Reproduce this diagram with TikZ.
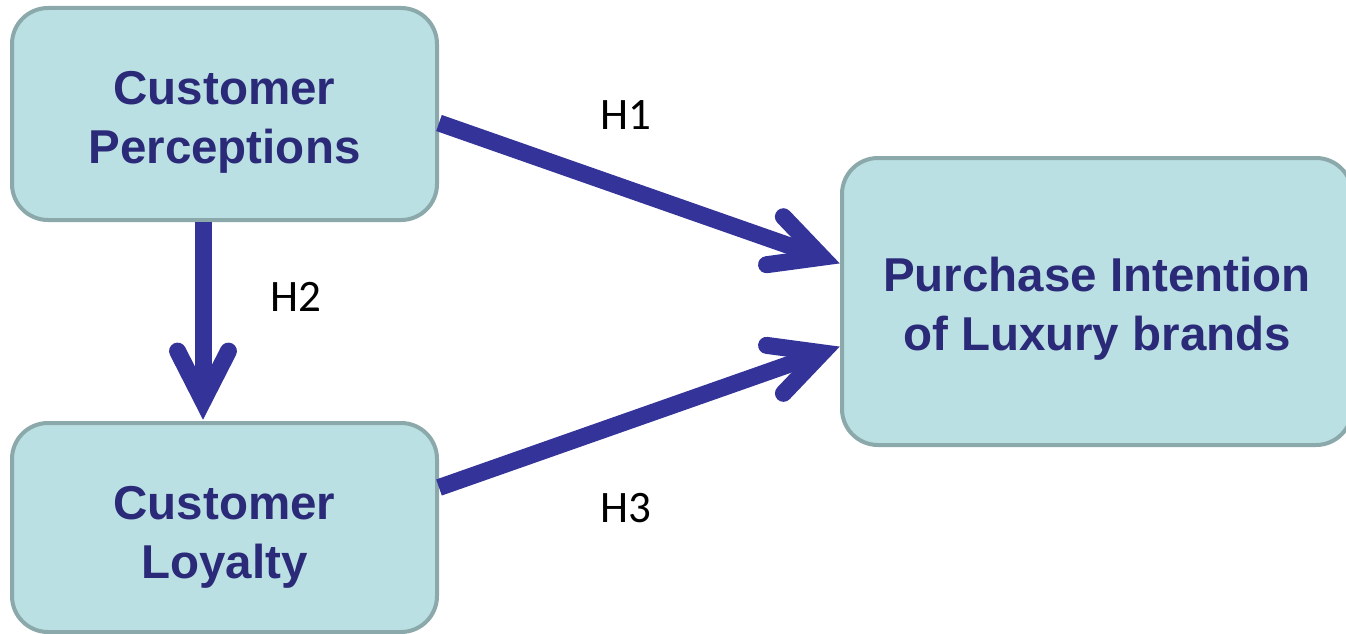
\documentclass[tikz,border=0pt]{standalone}
\usepackage{fontspec}
\setmainfont{Liberation Sans}
\newfontfamily\hfont{Carlito}
\usetikzlibrary{calc}
\definecolor{boxfill}{HTML}{BAE0E3}
\definecolor{boxline}{HTML}{8BA8AA}
\definecolor{boxtext}{HTML}{2A2A78}
\definecolor{arrowblue}{HTML}{333399}
\tikzset{
  box/.style={draw=boxline, fill=boxfill, line width=4pt, rounded corners=36pt,
    inner sep=0pt, align=center, text=boxtext,
    font=\bfseries\fontsize{47.5}{59}\selectfont},
  hlabel/.style={inner sep=0pt, font=\hfont\fontsize{45}{54}\selectfont, text=black},
  shaft/.style={draw=arrowblue, line width=17pt, line cap=butt},
  barb/.style={draw=arrowblue, line width=17pt, line cap=round, line join=miter, miter limit=10}
}
\newcommand{\hyparr}[3]{%
  \coordinate (#3c) at ($(#2)!19pt!(#1)$);
  \draw[shaft] (#1) -- (#3c);
  \draw[barb] ($(#3c)!56pt!27:(#1)$) -- (#3c) -- ($(#3c)!56pt!-27:(#1)$);
}
\begin{document}
\begin{tikzpicture}[x=1pt,y=-1pt]
\useasboundingbox (0,0) rectangle (1346,634);
\node[box, minimum width=425pt, minimum height=212pt] (cp) at (224.5,114) {\rule{0pt}{50pt}Customer\\Perceptions};
\node[box, minimum width=425pt, minimum height=209pt] (cl) at (224.5,527.5) {\rule{0pt}{52pt}Customer\\Loyalty};
\node[box, minimum width=510pt, minimum height=287pt] (pi) at (1097,301.5) {\rule{0pt}{48pt}Purchase Intention\\of Luxury brands};
\coordinate (s1) at ($(cp.east)+(0,9)$);
\coordinate (t1) at ($(pi.west)+(0,-38)$);
\coordinate (s2) at ($(cp.south)+(-21.5,0)$);
\coordinate (t2) at ($(cl.north)+(-21.5,-1)$);
\coordinate (s3) at ($(cl.east)+(0,-40)$);
\coordinate (t3) at ($(pi.west)+(0,45)$);
\hyparr{s1}{t1}{a}
\hyparr{s2}{t2}{b}
\hyparr{s3}{t3}{d}
\node[hlabel] (h1) at (626,115) {H1};
\node[hlabel] (h2) at (296,297) {H2};
\node[hlabel] (h3) at (626,508) {H3};
\end{tikzpicture}
\end{document}
